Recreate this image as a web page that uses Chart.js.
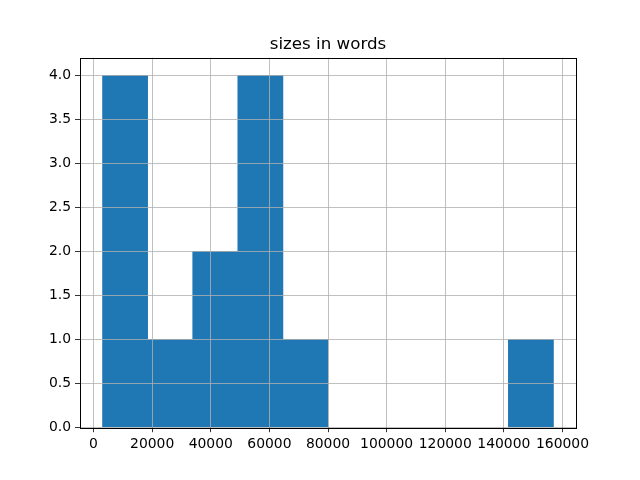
<!DOCTYPE html>
<html>
<head>
<meta charset="utf-8">
<script src="https://cdn.jsdelivr.net/npm/chart.js@4"></script>
<style>
  html, body { margin: 0; padding: 0; background: #fff; }
  #wrap { width: 640px; height: 480px; }
</style>
</head>
<body>
<div id="wrap"><canvas id="myChart" width="640" height="480"></canvas></div>
<script>
// histogram of word counts, 10 bins
var binCenters = [10769, 26154, 41538, 56923, 72308, 87692, 103077, 118462, 133846, 149231];
var counts = [4, 1, 2, 4, 1, 0, 0, 0, 0, 1];
var xTicks = [0, 20000, 40000, 60000, 80000, 100000, 120000, 140000, 160000];
var yTicks = [0, 0.5, 1, 1.5, 2, 2.5, 3, 3.5, 4];

var tickFont = { family: 'DejaVu Sans', size: 13.9 };

// box around the axes like matplotlib spines
var frame = {
    id: 'frame',
    afterDraw: function (chart) {
        var a = chart.chartArea, c = chart.ctx;
        c.save();
        c.strokeStyle = '#000';
        c.lineWidth = 1;
        c.strokeRect(Math.round(a.left) + 0.5, Math.round(a.top) + 0.5,
            Math.round(a.right - a.left), Math.round(a.bottom - a.top));
        c.restore();
    }
};

var ctx = document.getElementById('myChart');
var myChart = new Chart(ctx, {
    type: 'bar',
    data: {
        datasets: [{
            data: binCenters.map(function (x, i) { return { x: x, y: counts[i] || null }; }),
            backgroundColor: '#1f77b4',
            borderWidth: 0,
            barPercentage: 1,
            categoryPercentage: 1
        }]
    },
    options: {
        responsive: false,
        animation: false,
        layout: { padding: { left: 0, right: 64, top: 0, bottom: 0 } },
        plugins: {
            legend: { display: false },
            tooltip: { enabled: false },
            title: {
                display: true,
                fullSize: false,
                text: 'sizes in words',
                color: '#000',
                font: { family: 'DejaVu Sans', size: 16.7, weight: 'normal' },
                padding: { top: 35, bottom: 2.6 }
            }
        },
        scales: {
            x: {
                type: 'linear',
                min: -4615,
                max: 164615,
                offset: false,
                afterBuildTicks: function (s) { s.ticks = xTicks.map(function (v) { return { value: v }; }); },
                afterFit: function (s) { s.height = 52.8; },
                ticks: {
                    color: '#000',
                    font: tickFont,
                    padding: 4,
                    maxRotation: 0,
                    autoSkip: false,
                    callback: function (v) { return String(v); }
                },
                grid: { z: 1, offset: false, color: '#b0b0b0', lineWidth: 0.8, tickColor: '#000', tickLength: 5, drawTicks: true },
                border: { display: false }
            },
            y: {
                min: 0,
                max: 4.2,
                afterBuildTicks: function (s) { s.ticks = yTicks.map(function (v) { return { value: v }; }); },
                afterFit: function (s) { s.width = 80; },
                ticks: {
                    color: '#000',
                    font: tickFont,
                    padding: 4,
                    autoSkip: false,
                    callback: function (v) { return v.toFixed(1); }
                },
                grid: { z: 1, color: '#b0b0b0', lineWidth: 0.8, tickColor: '#000', tickLength: 5, drawTicks: true },
                border: { display: false }
            }
        }
    },
    plugins: [frame]
});

window.chart = myChart;
</script>
</body>
</html>
